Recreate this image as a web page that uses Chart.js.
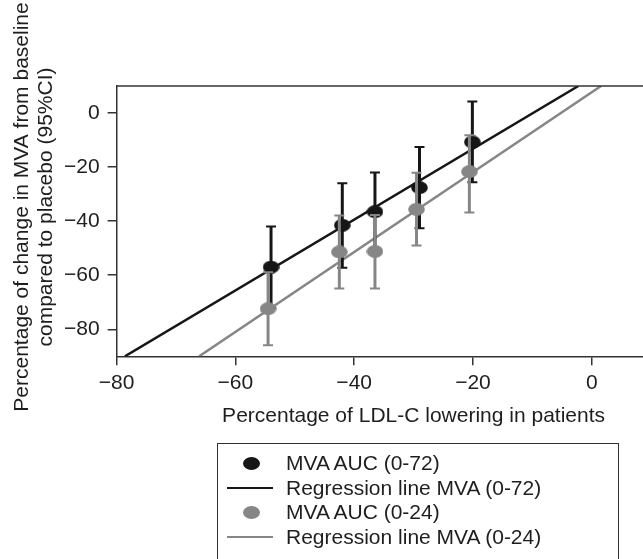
<!DOCTYPE html>
<html>
<head>
<meta charset="utf-8">
<script src="https://cdn.jsdelivr.net/npm/chart.js@4/dist/chart.umd.min.js"></script>
<style>
  body { margin: 0; background: #fff; }
  #wrap { position: relative; width: 643px; height: 559px; overflow: hidden; font-family: "Liberation Sans", Arial, Helvetica, sans-serif; color: #1e1e1e; }
  #chart { position: absolute; left: 0; top: 0; }
  #legend { position: absolute; left: 217px; top: 443px; width: 402px; height: 140px; border: 1.5px solid #333; box-sizing: border-box; padding-top: 7px; }
  .row { position: relative; height: 24.6px; line-height: 24.6px; font-size: 21px; padding-left: 68px; white-space: nowrap; }
  .dot { position: absolute; left: 25px; top: 6px; width: 17px; height: 13px; border-radius: 50%; }
  .ln { position: absolute; left: 9px; top: 11px; width: 46px; height: 2.5px; }
</style>
</head>
<body>
<div id="wrap">
  <canvas id="chart" width="720" height="559"></canvas>
  <div id="legend"></div>
</div>
<script>
// LDL-C lowering (%) per group
const ldl72 = [-54.0, -42.0, -36.5, -29.0, -20.1];
const mva72 = [-57.0, -41.5, -36.5, -27.6, -10.7];
const mva72Low = [-72.0, -57.2, -51.5, -42.6, -25.6];
const mva72High = [-42.0, -26.0, -22.0, -12.6, 4.3];

const ldl24 = [-54.5, -42.5, -36.5, -29.5, -20.6];
const mva24 = [-72.4, -51.4, -51.2, -35.6, -21.7];
const mva24Low = [-85.9, -64.9, -64.9, -49.0, -36.8];
const mva24High = [-58.9, -37.9, -37.7, -22.1, -8.2];

// regression line end points
const regX72 = [-78.6, -2.25];
const regY72 = [-90, 10];
const regX24 = [-66.1, 1.57];
const regY24 = [-90, 10];

const xTickValues = [-80, -60, -40, -20, 0];
const yTickValues = [-80, -60, -40, -20, 0];

const yTitle = ["Percentage of change in MVA from baseline", "compared to placebo (95%CI)"];
const xTitle = "Percentage of LDL-C lowering in patients";

const legendItems = [
  { label: "MVA AUC (0-72)", kind: "dot", color: "#161616" },
  { label: "Regression line MVA (0-72)", kind: "line", color: "#161616" },
  { label: "MVA AUC (0-24)", kind: "dot", color: "#868686" },
  { label: "Regression line MVA (0-24)", kind: "line", color: "#868686" }
];

const BLACK = "#161616";
const GREY = "#868686";
const TEXT = "#1e1e1e";
const FONT = "'Liberation Sans', Arial, Helvetica, sans-serif";

function ellipse(color) {
  const c = document.createElement("canvas");
  c.width = 17;
  c.height = 13;
  const ctx = c.getContext("2d");
  ctx.fillStyle = color;
  ctx.beginPath();
  ctx.ellipse(8.5, 6.5, 8.3, 6.4, 0, 0, Math.PI * 2);
  ctx.fill();
  return c;
}

function pairs(xs, ys) {
  return xs.map((x, i) => ({ x: x, y: ys[i] }));
}

function minusLabel(v) {
  return v < 0 ? "\u2212" + Math.abs(v) : String(v);
}

const errorBars = {
  id: "errorBars",
  beforeDatasetDraw(chart, args) {
    const ds = chart.data.datasets[args.index];
    if (!ds.errLow) return;
    const ctx = chart.ctx;
    const xs = chart.scales.x;
    const ys = chart.scales.y;
    ctx.save();
    ctx.strokeStyle = ds.errColor;
    ds.data.forEach((p, i) => {
      const px = xs.getPixelForValue(p.x);
      const top = ys.getPixelForValue(ds.errHigh[i]);
      const bot = ys.getPixelForValue(ds.errLow[i]);
      ctx.lineWidth = 3;
      ctx.beginPath();
      ctx.moveTo(px, top);
      ctx.lineTo(px, bot);
      ctx.stroke();
      ctx.lineWidth = 2;
      ctx.beginPath();
      ctx.moveTo(px - 5, top);
      ctx.lineTo(px + 5, top);
      ctx.moveTo(px - 5, bot);
      ctx.lineTo(px + 5, bot);
      ctx.stroke();
    });
    ctx.restore();
  }
};

// top frame line and the two-line y title
const frameAndTitle = {
  id: "frameAndTitle",
  afterDraw(chart) {
    const a = chart.chartArea;
    const ctx = chart.ctx;
    ctx.save();
    ctx.strokeStyle = "#333";
    ctx.lineWidth = 1.5;
    ctx.beginPath();
    ctx.moveTo(a.left, a.top);
    ctx.lineTo(a.right, a.top);
    ctx.stroke();

    ctx.fillStyle = TEXT;
    ctx.font = "21px " + FONT;
    ctx.textAlign = "center";
    ctx.textBaseline = "middle";
    ctx.translate(0, 207);
    ctx.rotate(-Math.PI / 2);
    ctx.fillText(yTitle[0], 0, 22);
    ctx.fillText(yTitle[1], 0, 46);
    ctx.restore();
  }
};

new Chart(document.getElementById("chart"), {
  type: "scatter",
  data: {
    datasets: [
      {
        label: "MVA AUC (0-24)",
        data: pairs(ldl24, mva24),
        pointStyle: ellipse(GREY),
        errLow: mva24Low,
        errHigh: mva24High,
        errColor: GREY,
        order: 1
      },
      {
        label: "MVA AUC (0-72)",
        data: pairs(ldl72, mva72),
        pointStyle: ellipse(BLACK),
        errLow: mva72Low,
        errHigh: mva72High,
        errColor: BLACK,
        order: 2
      },
      {
        label: "Regression line MVA (0-24)",
        type: "line",
        data: pairs(regX24, regY24),
        borderColor: GREY,
        borderWidth: 2.5,
        pointRadius: 0,
        order: 3
      },
      {
        label: "Regression line MVA (0-72)",
        type: "line",
        data: pairs(regX72, regY72),
        borderColor: BLACK,
        borderWidth: 2.5,
        pointRadius: 0,
        order: 4
      }
    ]
  },
  options: {
    responsive: false,
    animation: false,
    layout: { padding: { left: 56, right: 9.5, top: 86, bottom: 130.3 } },
    plugins: { legend: { display: false }, tooltip: { enabled: false } },
    scales: {
      x: {
        type: "linear",
        min: -80,
        max: 20,
        afterBuildTicks: axis => { axis.ticks = xTickValues.map(v => ({ value: v })); },
        grid: { display: true, drawOnChartArea: false, drawTicks: true, tickLength: 9, color: "#333", lineWidth: 1.5 },
        border: { color: "#333", width: 1.5 },
        ticks: { callback: minusLabel, color: TEXT, padding: 5, maxRotation: 0, font: { family: FONT, size: 21 } },
        title: { display: true, text: xTitle, color: TEXT, padding: { top: 3, bottom: 0 }, font: { family: FONT, size: 21 } }
      },
      y: {
        type: "linear",
        min: -90,
        max: 10,
        afterBuildTicks: axis => { axis.ticks = yTickValues.map(v => ({ value: v })); },
        grid: { display: true, drawOnChartArea: false, drawTicks: true, tickLength: 9, color: "#333", lineWidth: 1.5 },
        border: { color: "#333", width: 1.5 },
        ticks: { callback: minusLabel, color: TEXT, padding: 8, font: { family: FONT, size: 21 } }
      }
    }
  },
  plugins: [errorBars, frameAndTitle]
});

const legend = document.getElementById("legend");
legendItems.forEach(item => {
  const row = document.createElement("div");
  row.className = "row";
  const mark = document.createElement("span");
  mark.className = item.kind === "dot" ? "dot" : "ln";
  mark.style.background = item.color;
  row.appendChild(mark);
  row.appendChild(document.createTextNode(item.label));
  legend.appendChild(row);
});
</script>
</body>
</html>
